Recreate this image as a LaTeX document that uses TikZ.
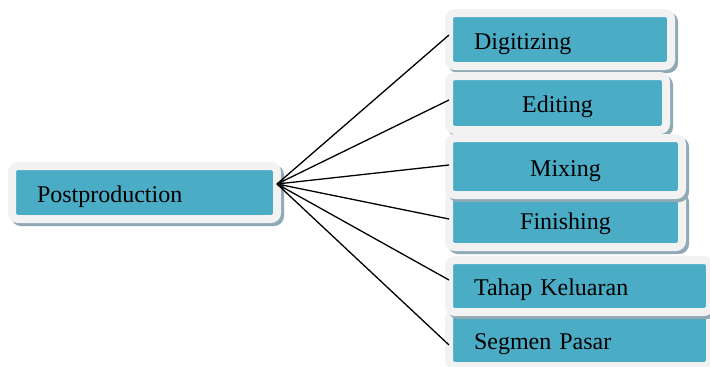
\documentclass[tikz,border=0pt]{standalone}
\usepackage{fontspec}
\setmainfont{Liberation Serif}
\definecolor{boxblue}{HTML}{4BACC6}
\definecolor{framegray}{HTML}{F2F2F2}
\definecolor{shadowgray}{HTML}{8FA9B5}
\tikzset{
    stagebox/.style 2 args={fill=boxblue, draw=framegray, line width=8pt, rounded corners=6pt,
        preaction={draw=shadowgray, fill=shadowgray, line width=8pt, transform canvas={xshift=3pt,yshift=-3pt}},
        inner xsep=25pt, inner ysep=0pt, outer sep=0pt, text width=#1pt, minimum height=#2pt,
        text height=20pt, text depth=1pt, font=\fontsize{24}{28}\selectfont},
    spoke/.style={black, line width=1.3pt}
}
\begin{document}
\begin{tikzpicture}[x=1pt,y=-1pt]
        \useasboundingbox (0,0) rectangle (710,367);

        % left box
        \node[stagebox={215}{53}, align=left] (post) at (144.5,192.5) {Postproduction};
        \coordinate (hub) at ([yshift=8.5pt]post.east);

        % right boxes (lower ones first where they are overlapped)
        \foreach \name/\txt/\cx/\cy/\w/\h/\al [evaluate=\w as \tw using \w-50] in {
                digit/Digitizing/560/39.5/222/53/left,
                edit/Editing/557.5/103/217/54/center,
                fin/Finishing/565.5/220/233/54/center,
                mix/Mixing/565.5/166.5/233/57/center,
                seg/Segmen Pasar/579.5/339.5/261/53/left,
                tahap/Tahap Keluaran/579.5/286/261/52/left} {
            \node[stagebox={\tw}{\h}, align=\al] (\name) at (\cx,\cy) {\txt};
        }

        % connectors
        \foreach \name/\dy in {digit/4.5, edit/3, mix/1.5, fin/1, tahap/6, seg/-5.5} {
            \draw [spoke] (hub) -- ([yshift=\dy pt]\name.west);
        }
    \end{tikzpicture}
\end{document}
